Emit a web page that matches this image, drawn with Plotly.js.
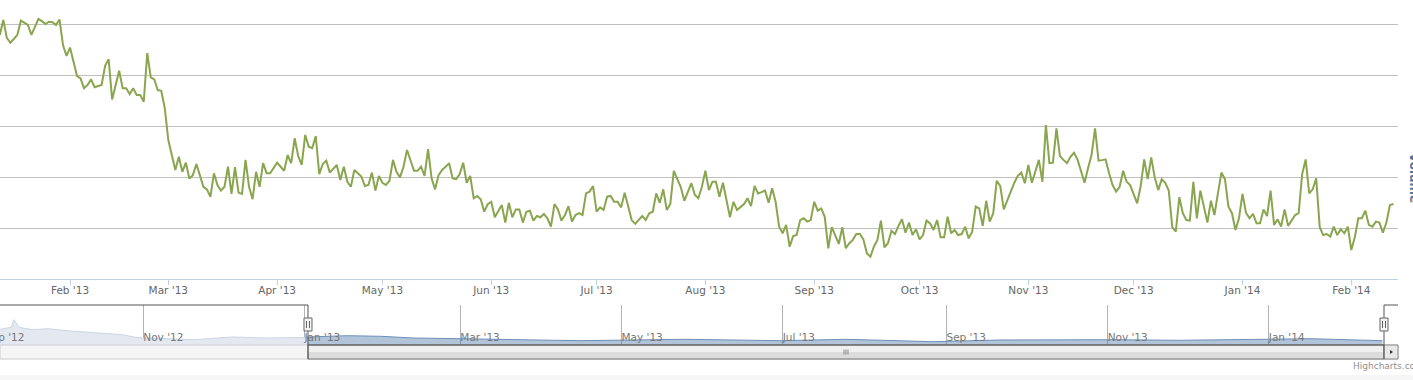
<!DOCTYPE html>
<html>
<head>
<meta charset="utf-8">
<script src="https://cdn.plot.ly/plotly-3.0.1.min.js"></script>
<style>
html,body{margin:0;padding:0;background:#fff;}
#chart{width:1413px;height:380px;}
</style>
</head>
<body>
<div id="chart"></div>
<script>
// ---- Data ----
// Daily volume, starting 2013-01-12 (one value per day)
const volumeStart = '2013-01-12';
const volume = [
  96.1,102.0,94.9,93.0,94.5,96.1,101.7,101.0,100.0,96.1,
  99.0,102.4,101.5,100.4,101.3,101.1,100.0,102.2,92.1,87.8,
  91.1,85.5,79.9,79.0,75.1,76.4,78.6,75.5,75.9,76.4,
  83.9,86.5,70.7,76.4,82.0,75.1,75.1,72.8,75.1,72.4,
  72.4,69.8,88.9,79.4,78.6,74.4,74.1,67.2,54.7,48.8,
  42.9,48.1,42.2,45.8,39.6,40.9,45.3,40.8,36.3,35.3,
  32.4,41.6,37.0,34.8,36.3,44.2,33.5,44.0,34.0,33.5,
  46.9,36.3,31.4,42.2,36.3,45.6,41.6,41.6,43.7,45.8,
  44.2,42.6,48.8,45.6,55.4,48.4,44.9,56.7,52.1,51.5,
  56.3,41.3,45.3,46.6,41.9,43.4,44.9,39.0,44.2,38.3,
  36.3,42.9,41.6,40.3,36.6,37.0,41.9,34.8,40.6,37.9,
  37.0,38.7,46.9,42.2,40.0,44.2,50.8,46.6,42.6,42.6,
  44.2,40.6,51.1,39.6,35.3,40.9,42.9,44.2,45.6,39.6,
  39.3,41.3,45.8,37.9,40.6,31.8,32.7,31.4,26.5,29.5,
  30.4,24.3,26.9,29.1,22.2,30.0,24.3,27.4,27.4,22.2,
  26.5,26.9,23.0,24.8,24.3,25.6,23.9,20.6,29.5,27.4,
  23.0,25.2,28.7,22.6,25.2,25.9,25.2,33.7,34.4,36.6,
  26.5,28.2,27.2,32.4,32.7,30.4,30.4,28.2,34.0,29.1,
  23.2,21.7,23.2,24.8,23.2,25.9,26.5,33.7,30.0,35.3,
  27.2,29.5,42.6,39.4,36.1,30.8,34.3,37.7,33.1,31.8,
  36.3,42.6,35.0,38.3,38.3,32.4,37.9,30.4,24.3,30.4,
  27.2,28.3,29.5,31.8,28.7,36.6,33.7,34.2,34.8,30.0,
  35.7,30.4,20.6,18.0,21.3,12.7,16.9,17.3,23.2,23.9,
  22.6,23.2,30.4,26.9,27.8,24.5,12.1,20.4,16.7,13.8,
  20.4,12.1,14.1,15.4,17.7,17.7,15.6,10.1,8.8,12.7,
  15.4,23.0,12.5,14.1,19.0,17.7,20.9,23.5,18.2,22.2,
  17.3,19.6,15.6,17.3,23.0,21.9,19.3,23.2,16.4,16.4,
  24.5,18.0,19.3,17.3,17.7,20.6,16.0,18.6,28.5,27.8,
  20.9,30.8,22.6,25.9,38.7,36.6,27.4,31.1,34.4,37.9,
  40.6,41.9,37.7,44.9,37.9,42.9,46.9,38.3,60.6,45.6,
  45.8,59.3,48.4,46.9,45.6,48.1,49.7,47.1,42.2,37.9,
  43.6,48.8,59.3,46.6,46.8,47.1,41.6,37.0,34.4,36.3,
  42.6,38.3,37.0,33.5,29.8,36.6,47.1,39.3,47.9,40.0,
  35.0,39.3,37.9,34.8,20.4,18.6,32.2,25.9,23.2,23.0,
  38.3,23.9,34.8,28.5,22.2,30.8,25.2,33.7,41.9,39.3,
  28.5,25.9,19.3,23.9,33.5,26.1,23.9,25.6,21.9,21.9,
  27.4,24.8,34.8,21.3,23.5,20.6,27.4,20.9,23.2,25.2,
  25.9,41.3,47.1,33.7,35.3,39.6,20.4,17.3,17.7,16.7,
  20.6,17.3,19.6,18.0,20.6,11.4,16.4,23.9,23.9,26.9,
  21.3,20.6,22.6,22.2,18.2,22.2,29.1,29.5
];

// Navigator series (overview)
const navDates = ['2012-09-07','2012-09-12','2012-09-13','2012-09-15','2012-09-20','2012-09-26',
  '2012-10-03','2012-10-15','2012-10-24','2012-10-29','2012-11-01','2012-11-10','2012-11-20',
  '2012-12-05','2012-12-17','2013-01-01','2013-01-02','2013-01-17','2013-01-30','2013-02-11',
  '2013-03-01','2013-03-21','2013-04-15','2013-05-25','2013-06-30','2013-07-25','2013-08-27',
  '2013-09-21','2013-11-03','2013-11-28','2013-12-23','2014-01-17','2014-02-13'];
const navValues = [15.3,17.7,25.3,17.7,15.3,16.3,14.3,12.0,10.3,7.7,7.0,6.3,5.3,
  8.0,7.0,7.5,8.0,9.3,8.7,7.0,6.3,5.3,4.3,5.7,4.3,5.7,3.3,5.0,5.3,4.7,5.3,6.3,4.3];

const mainRange = ['2013-01-12 01:18', '2014-02-14 07:12'];
const navRange = ['2012-09-07 18:14', '2014-02-18 21:36'];
const navSelection = ['2013-01-02 08:00', '2014-02-13 14:24'];
const navFirstLabel = {date: '2012-09-01', text: "Sep '12"};
const yTickVals = [20, 40, 60, 80, 100];
const axisTitle = 'Volume';
const creditText = 'Highcharts.com';

// ---- Build ----
function dayDate(start, i) {
  const p = start.split('-').map(Number);
  const d = new Date(Date.UTC(p[0], p[1]-1, p[2] + i));
  return d.toISOString().slice(0, 10);
}
function ms(s) { return Date.parse(s.replace(' ', 'T') + (s.length > 10 ? ':00Z' : 'T00:00:00Z')); }
const volDates = volume.map((v, i) => dayDate(volumeStart, i));

const H = 380;
function yp(px) { return 1 - px / H; }

const selMs0 = ms(navSelection[0]);
const selMs1 = ms(navSelection[1]);
const selMid = new Date((selMs0 + selMs1) / 2).toISOString().slice(0, 19).replace('T', ' ');
const selDay0 = ms(navSelection[0].slice(0, 10));
const navFrac = (ms(navFirstLabel.date) - ms(navRange[0])) / (ms(navRange[1]) - ms(navRange[0]));

const leftX = [], leftY = [], rightX = [], rightY = [];
navDates.forEach((d, i) => {
  const t = ms(d);
  if (t <= selMs0) { leftX.push(d); leftY.push(navValues[i]); }
  if (t >= selDay0) { rightX.push(d); rightY.push(navValues[i]); }
});

const traces = [
  {
    x: volDates, y: volume, type: 'scatter', mode: 'lines',
    line: {color: '#89A54E', width: 2}, xaxis: 'x', yaxis: 'y', hoverinfo: 'skip'
  },
  {
    x: leftX, y: leftY, type: 'scatter', mode: 'lines', fill: 'tozeroy',
    fillcolor: '#E4E9F1', line: {color: '#CBD5E3', width: 1},
    xaxis: 'x2', yaxis: 'y2', hoverinfo: 'skip'
  },
  {
    x: rightX, y: rightY, type: 'scatter', mode: 'lines', fill: 'tozeroy',
    fillcolor: 'rgba(69,114,167,0.42)', line: {color: '#6F8FB8', width: 1},
    xaxis: 'x2', yaxis: 'y2', hoverinfo: 'skip'
  }
];

const outline = '#555555';
const shapes = [
  {type: 'rect', layer: 'between', xref: 'x2', yref: 'paper', x0: navRange[0], x1: navSelection[0],
   y0: yp(345), y1: yp(305), fillcolor: 'rgba(255,255,255,0.72)', line: {width: 0}},
  {type: 'rect', layer: 'between', xref: 'x2', yref: 'paper', x0: navSelection[1], x1: navRange[1],
   y0: yp(345), y1: yp(305), fillcolor: 'rgba(255,255,255,0.72)', line: {width: 0}},
  {type: 'rect', xref: 'paper', yref: 'paper', x0: 0, x1: 1, y0: yp(359), y1: yp(345),
   fillcolor: '#F5F5F5', line: {color: '#CCCCCC', width: 1}},
  {type: 'rect', xref: 'x2', yref: 'paper', x0: navSelection[0], x1: navSelection[1], y0: yp(352), y1: yp(345),
   fillcolor: '#F0F0F0', line: {width: 0}},
  {type: 'rect', xref: 'x2', yref: 'paper', x0: navSelection[0], x1: navSelection[1], y0: yp(359), y1: yp(352),
   fillcolor: '#DCDCDC', line: {width: 0}},
  {type: 'rect', xref: 'x2', yref: 'paper', x0: navSelection[0], x1: navSelection[1], y0: yp(359), y1: yp(345),
   fillcolor: 'rgba(0,0,0,0)', line: {color: '#777777', width: 1}},
  {type: 'line', xref: 'x2', yref: 'paper', xsizemode: 'pixel', xanchor: selMid, x0: -2, x1: -2, y0: yp(354.5), y1: yp(349.5), line: {color: '#888', width: 1}},
  {type: 'line', xref: 'x2', yref: 'paper', xsizemode: 'pixel', xanchor: selMid, x0: 0, x1: 0, y0: yp(354.5), y1: yp(349.5), line: {color: '#888', width: 1}},
  {type: 'line', xref: 'x2', yref: 'paper', xsizemode: 'pixel', xanchor: selMid, x0: 2, x1: 2, y0: yp(354.5), y1: yp(349.5), line: {color: '#888', width: 1}},
  {type: 'rect', xref: 'paper', yref: 'paper', x0: 1 - 14/1398, x1: 1, y0: yp(359), y1: yp(345),
   fillcolor: '#E8E8E8', line: {color: '#888888', width: 1}},
  {type: 'path', xref: 'paper', yref: 'paper',
   path: 'M' + (1390/1398) + ',' + yp(350) + ' L' + (1393/1398) + ',' + yp(352) + ' L' + (1390/1398) + ',' + yp(354) + ' Z',
   fillcolor: '#333', line: {width: 0}},
  {type: 'line', xref: 'x2', yref: 'paper', x0: navRange[0], x1: navSelection[0], y0: yp(305), y1: yp(305), line: {color: outline, width: 1}},
  {type: 'line', xref: 'x2', yref: 'paper', x0: navSelection[1], x1: navRange[1], y0: yp(305), y1: yp(305), line: {color: outline, width: 1}},
  {type: 'line', xref: 'x2', yref: 'paper', x0: navSelection[0], x1: navSelection[1], y0: yp(345), y1: yp(345), line: {color: outline, width: 1}},
  {type: 'line', xref: 'x2', yref: 'paper', x0: navSelection[0], x1: navSelection[0], y0: yp(359), y1: yp(305), line: {color: outline, width: 1}},
  {type: 'line', xref: 'x2', yref: 'paper', x0: navSelection[1], x1: navSelection[1], y0: yp(359), y1: yp(305), line: {color: outline, width: 1}},
  {type: 'rect', xref: 'paper', yref: 'paper', x0: 0, x1: 1413/1398, y0: 0, y1: yp(375), fillcolor: '#F6F6F6', line: {width: 0}}
];
navSelection.forEach(s => {
  shapes.push({type: 'rect', xref: 'x2', yref: 'paper', xsizemode: 'pixel', xanchor: s, x0: -4, x1: 4,
    y0: yp(331), y1: yp(318), fillcolor: '#F4F4F4', line: {color: '#666666', width: 1}});
  shapes.push({type: 'line', xref: 'x2', yref: 'paper', xsizemode: 'pixel', xanchor: s, x0: -1.5, x1: -1.5,
    y0: yp(328), y1: yp(321), line: {color: '#666666', width: 1}});
  shapes.push({type: 'line', xref: 'x2', yref: 'paper', xsizemode: 'pixel', xanchor: s, x0: 1.5, x1: 1.5,
    y0: yp(328), y1: yp(321), line: {color: '#666666', width: 1}});
});

const font = '"DejaVu Sans", "Liberation Sans", sans-serif';
const layout = {
  width: 1413, height: 380,
  margin: {l: 0, r: 15, t: 0, b: 0, pad: 0},
  paper_bgcolor: '#ffffff', plot_bgcolor: '#ffffff',
  showlegend: false, hovermode: false,
  font: {family: font, size: 10.5, color: '#666666'},
  xaxis: {
    type: 'date', domain: [0, 1], range: mainRange, anchor: 'y',
    showgrid: false, zeroline: false, showline: true, linecolor: '#C0D0E0', linewidth: 1,
    ticks: 'outside', ticklen: 5, tickcolor: '#C0D0E0', tickwidth: 1,
    dtick: 'M1', tick0: '2013-01-01', tickformat: "%b '%y",
    ticklabelstandoff: -4,
    tickfont: {family: font, size: 10.5, color: '#666666'}
  },
  yaxis: {
    domain: [yp(279), 1], range: [0, 109.84], anchor: 'x',
    tickmode: 'array', tickvals: yTickVals, showticklabels: false,
    showgrid: true, gridcolor: '#C0C0C0', gridwidth: 1, zeroline: false, showline: false, ticks: ''
  },
  xaxis2: {
    type: 'date', domain: [0, 1], range: navRange, anchor: 'y2',
    showgrid: true, gridcolor: '#B4B4B4', gridwidth: 1, zeroline: false, showline: false,
    ticks: '', dtick: 'M2', tick0: '2012-11-01', tickformat: "%b '%y",
    ticklabelposition: 'inside right', ticklabelstandoff: -4,
    tickfont: {family: font, size: 10.5, color: '#777777'}
  },
  yaxis2: {
    domain: [yp(345), yp(305)], range: [0, 40], anchor: 'x2',
    showgrid: false, zeroline: false, showline: false, showticklabels: false, ticks: ''
  },
  shapes: shapes,
  annotations: [
    {xref: 'paper', yref: 'paper', x: 1414/1398, y: yp(178), xanchor: 'center', yanchor: 'middle',
     text: '<b>' + axisTitle + '</b>', textangle: 90, showarrow: false,
     font: {family: font, size: 12, color: '#4D759E'}},
    {xref: 'paper', yref: 'paper', x: 1351/1398, y: yp(366), xanchor: 'left', yanchor: 'middle',
     text: creditText, showarrow: false, font: {family: font, size: 9, color: '#909090'}},
    {xref: 'paper', yref: 'paper', x: navFrac, xshift: 1, y: yp(337), xanchor: 'left', yanchor: 'middle',
     text: navFirstLabel.text, showarrow: false, font: {family: font, size: 10.5, color: '#777777'}}
  ]
};

Plotly.newPlot('chart', traces, layout, {displayModeBar: false, staticPlot: true});
</script>
</body>
</html>
